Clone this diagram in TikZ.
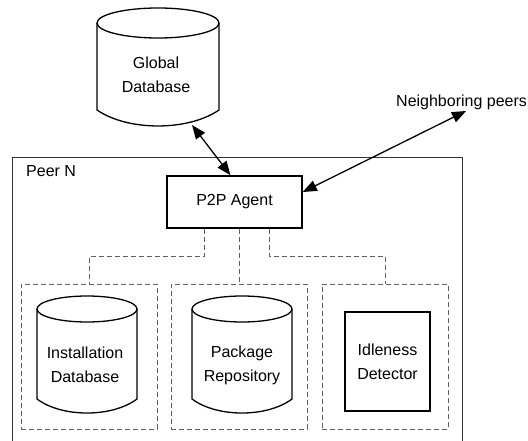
\documentclass[tikz,border=0pt]{standalone}
\usepackage{fontspec}
\setmainfont{Liberation Sans}
\usetikzlibrary{arrows.meta}
\begin{document}
\begin{tikzpicture}[x=1pt,y=-1pt,
  lbl/.style={font=\fontsize{16}{24}\selectfont, align=center, inner sep=0pt},
  outl/.style={line width=1.3pt, draw=black},
  peerbox/.style={draw=black!80, line width=1pt, inner sep=0pt},
  agentbox/.style={draw=black, line width=1.5pt, font=\fontsize{16}{24}\selectfont, inner sep=0pt},
  dbox/.style={draw=black!62, dash pattern=on 5pt off 3pt, line width=1pt, inner sep=0pt},
  conn/.style={draw=black!62, dash pattern=on 5pt off 3pt, line width=1pt},
  arr/.style={line width=1.3pt, {Triangle[length=14pt,width=11pt]}-{Triangle[length=14pt,width=11pt]}}
]
\useasboundingbox (0,0) rectangle (528,441);

% Peer N frame
\node[peerbox, anchor=north west, minimum width=450pt, minimum height=300pt] (peer) at (12,157) {};
\node[lbl, anchor=west] (peerlabel) at (26,171) {Peer N};

% Global database cylinder
\draw[outl] (158,23) ellipse [x radius=61, y radius=15];
\draw[outl] (97,23) -- (97,110) .. controls (128,131.3) and (188,131.3) .. (219,110) -- (219,23);
\node[lbl] (gdb) at (156,75) {Global\\Database};
\coordinate (gdbbot) at (192,125);

% Neighboring peers
\node[lbl, anchor=west] (nbrtext) at (396,102) {Neighboring peers};
\coordinate (nbr) at (466,111);

% P2P agent
\node[agentbox, minimum width=135pt, minimum height=52pt] (agent) at (234.5,202) {P2P Agent};

% Dashed containers
\node[dbox, minimum width=136pt, minimum height=145pt] (b1) at (89,356.5) {};
\node[dbox, minimum width=136pt, minimum height=145pt] (b2) at (239,356.5) {};
\node[dbox, minimum width=126pt, minimum height=145pt] (b3) at (385,356.5) {};

% Installation database cylinder
\draw[outl] (87,309) ellipse [x radius=50, y radius=13];
\draw[outl] (37,309) -- (37,399) .. controls (62,417.7) and (112,417.7) .. (137,399) -- (137,309);
\node[lbl] (instdb) at (85,365) {Installation\\Database};

% Package repository cylinder
\draw[outl] (242,309) ellipse [x radius=50, y radius=13];
\draw[outl] (192,309) -- (192,399) .. controls (217,417.7) and (267,417.7) .. (292,399) -- (292,309);
\node[lbl] (pkgrepo) at (242,365) {Package\\Repository};

% Idleness detector
\node[outl, lbl, minimum width=85pt, minimum height=99pt] (idle) at (387.5,361.5) {Idleness\\Detector};

% Arrows
\draw[arr] (gdbbot) -- ([xshift=-4pt]agent.north);
\draw[arr] (nbr) -- ([yshift=10pt]agent.east);

% Dashed connectors
\draw[conn] ([xshift=-30.5pt]agent.south) -- ++(0,28) -| (b1.north);
\draw[conn] (agent.south -| b2.north) -- (b2.north);
\draw[conn] ([xshift=35pt]agent.south) -- ++(0,28) -| (b3.north);
\end{tikzpicture}
\end{document}
